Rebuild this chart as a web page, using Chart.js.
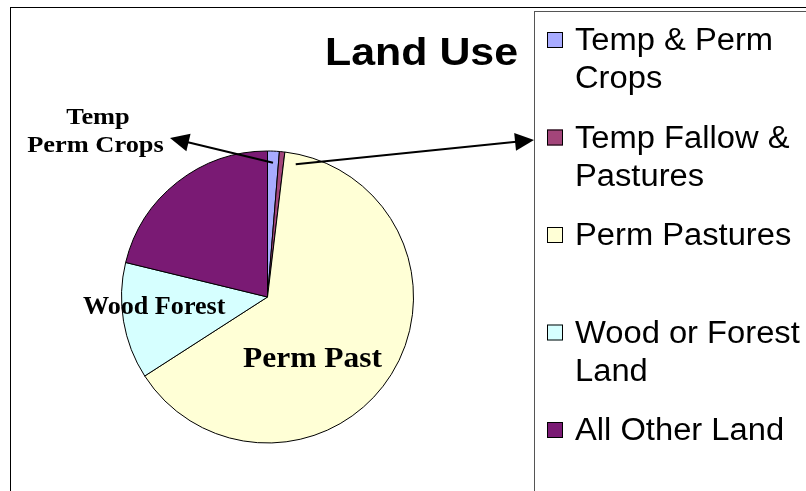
<!DOCTYPE html>
<html>
<head>
<meta charset="utf-8">
<script src="https://cdn.jsdelivr.net/npm/chart.js@4.4.1/dist/chart.umd.min.js"></script>
<style>
  html, body { margin: 0; padding: 0; background: #fff; }
  canvas { display: block; }
</style>
</head>
<body>
<canvas id="myChart" width="806" height="491"></canvas>
<script>
const categories = ['Temp & Perm Crops', 'Temp Fallow & Pastures', 'Perm Pastures', 'Wood or Forest Land', 'All Other Land'];
const legendLines = [['Temp & Perm', 'Crops'], ['Temp Fallow &', 'Pastures'], ['Perm Pastures'], ['Wood or Forest', 'Land'], ['All Other Land']];
const shares = [1.3, 0.6, 64.0, 12.9, 21.2];

const sliceColours = ['#a8abff', '#a3457a', '#ffffd6', '#d6ffff', '#7a1a74'];

// the original's type is a little wider than the fonts we have, so stretch it
let stretchText = (ctx, text, x, y, sx, align) => {
    ctx.save();
    ctx.translate(x, y);
    ctx.scale(sx, 1);
    ctx.textAlign = align || 'left';
    ctx.fillText(text, 0, 0);
    ctx.restore();
}

let arrow = (ctx, x1, y1, x2, y2) => {
    // line with a filled head at (x2, y2)
    const a = Math.atan2(y2 - y1, x2 - x1);
    const len = 19, half = 9;
    ctx.beginPath();
    ctx.moveTo(x1, y1);
    ctx.lineTo(x2 - Math.cos(a) * len * 0.8, y2 - Math.sin(a) * len * 0.8);
    ctx.stroke();
    ctx.beginPath();
    ctx.moveTo(x2, y2);
    ctx.lineTo(x2 - Math.cos(a) * len - Math.sin(a) * half, y2 - Math.sin(a) * len + Math.cos(a) * half);
    ctx.lineTo(x2 - Math.cos(a) * len + Math.sin(a) * half, y2 - Math.sin(a) * len - Math.cos(a) * half);
    ctx.closePath();
    ctx.fill();
}

const decorations = {
    id: 'decorations',
    afterDraw(chart) {
        const ctx = chart.ctx;
        const arcs = chart.getDatasetMeta(0).data;
        ctx.save();

        // frames
        ctx.lineWidth = 1;
        ctx.strokeStyle = '#000';
        ctx.strokeRect(10.5, 7.5, 900, 600);
        ctx.strokeStyle = '#555';
        ctx.strokeRect(534.5, 11.5, 400, 600);

        // title
        ctx.fillStyle = '#000';
        ctx.textBaseline = 'alphabetic';
        ctx.font = 'bold 39px "Liberation Sans", Arial, sans-serif';
        stretchText(ctx, 'Land Use', 325, 65, 1.1);

        // legend
        const legendTop = 50, step = 97.5;
        ctx.font = '31px "Liberation Sans", Arial, sans-serif';
        legendLines.forEach((lines, i) => {
            const base = legendTop + i * step;
            ctx.fillStyle = sliceColours[i];
            ctx.fillRect(547, base - 18, 16, 16);
            ctx.strokeStyle = '#000';
            ctx.strokeRect(547.5, base - 17.5, 15, 15);
            ctx.fillStyle = '#000';
            lines.forEach((t, j) => stretchText(ctx, t, 575, base + j * 38, 1.055));
        });

        // slice labels
        ctx.font = 'bold 24px "Liberation Serif", "Times New Roman", serif';
        stretchText(ctx, 'Temp', 98, 124, 1.1, 'center');
        stretchText(ctx, 'Perm Crops', 95.5, 152, 1.1, 'center');
        ctx.font = 'bold 25px "Liberation Serif", "Times New Roman", serif';
        stretchText(ctx, 'Wood Forest', 83, 314, 1.045);
        ctx.font = 'bold 30px "Liberation Serif", "Times New Roman", serif';
        stretchText(ctx, 'Perm Past', 243, 367, 1.05);

        // arrows out of the two thin slices
        ctx.strokeStyle = '#000';
        ctx.lineWidth = 2;
        const a0 = arcs[0], a1 = arcs[1];
        const m0 = (a0.startAngle + a0.endAngle) / 2;
        const r0 = a0.outerRadius * 0.92;
        arrow(ctx, a0.x + Math.cos(m0) * r0, a0.y + Math.sin(m0) * r0, 170, 138);
        const m1 = a1.endAngle + 0.09;
        const r1 = a1.outerRadius * 0.93;
        arrow(ctx, a1.x + Math.cos(m1) * r1, a1.y + Math.sin(m1) * r1, 534, 140);

        ctx.restore();
    }
};

const config = {
    type: 'pie',
    data: {
        labels: categories,
        datasets: [{
            data: shares,
            backgroundColor: sliceColours,
            borderColor: '#000',
            borderWidth: 1
        }]
    },
    options: {
        responsive: false,
        animation: false,
        layout: {
            padding: { left: 121, top: 150, right: 392, bottom: 47 }
        },
        plugins: {
            legend: { display: false },
            title: { display: false },
            tooltip: { enabled: false }
        }
    },
    plugins: [decorations]
};

const myChart = new Chart(document.getElementById('myChart'), config);
</script>
</body>
</html>
